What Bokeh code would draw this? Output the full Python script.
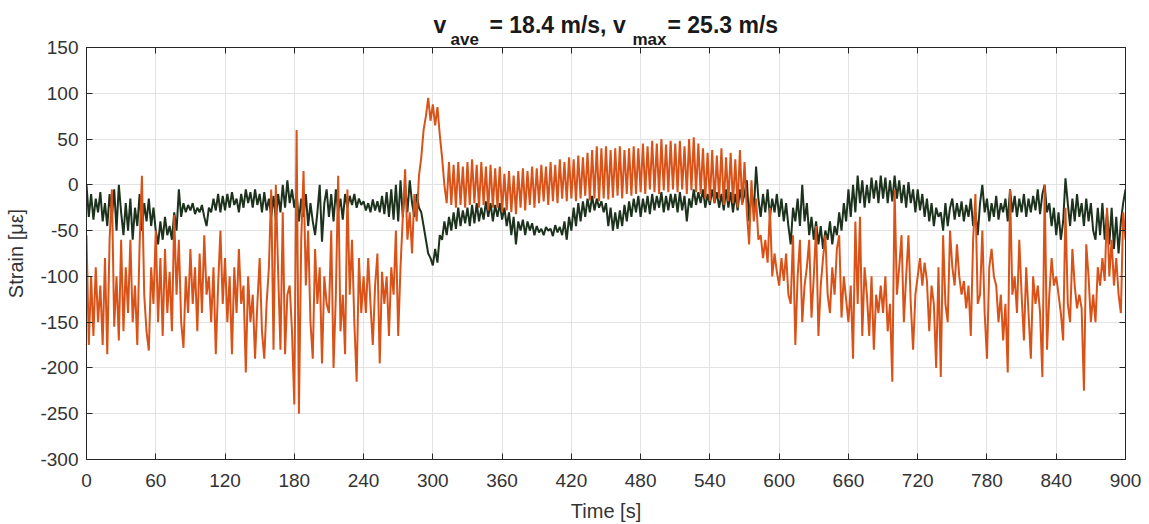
import numpy as np
from bokeh.plotting import figure
from bokeh.models import Range1d, FixedTicker, LinearAxis, Label
from bokeh.embed import file_html
from bokeh.resources import INLINE

# ---------------- data ----------------
time_step = 2  # seconds between samples
x_ticks = [0, 60, 120, 180, 240, 300, 360, 420, 480, 540, 600, 660, 720, 780, 840, 900]
y_ticks = [-300, -250, -200, -150, -100, -50, 0, 50, 100, 150]
y_tick_labels = ["-300", "-250", "-200", "-150", "-100", "-50", "0", "50", "100", "150"]

strain_green = [
    0, -35, -10, -38, -15, -30, -8, -40, -20, -45, -10, -35, -5, -50, 0,
    -30, -55, -20, -50, -15, -60, -25, -45, -10, -50, -20, -40, -15, -45, -25,
    -50, -65, -40, -60, -35, -55, -45, -60, -30, -50, -5, -35, -20, -30, -22,
    -28, -20, -32, -25, -30, -22, -35, -45, -25, -30, -15, -28, -10, -30, -12,
    -28, -10, -25, -8, -22, -15, -30, -10, -25, -5, -20, -8, -25, -5, -22,
    -10, -30, -8, -28, -15, -35, -12, -38, -10, -30, 0, -25, 5, -20, -5,
    -25, -10, -40, -15, -35, -10, -45, -20, -40, -55, -30, 0, -62, -20, -5,
    -35, -10, -40, -5, -30, -15, -38, -10, -25, -12, -22, -10, -25, -15, -22,
    -18, -28, -20, -30, -16, -28, -18, -30, -12, -32, -8, -35, -5, -38, 0,
    -40, 5, -35, 0, -30, 5, -20, -35, -10, -25, -30, -45, -60, -75, -80,
    -88, -70, -85, -55, -60, -40, -55, -35, -50, -30, -48, -25, -45, -28, -42,
    -25, -45, -22, -42, -20, -40, -25, -38, -18, -35, -20, -40, -22, -35, -20,
    -38, -25, -45, -30, -55, -35, -65, -40, -50, -38, -55, -40, -50, -42, -55,
    -45, -52, -48, -55, -46, -50, -48, -56, -44, -52, -46, -55, -40, -60, -35,
    -50, -25, -45, -20, -40, -18, -35, -15, -30, -12, -28, -15, -25, -18, -30,
    -20, -45, -25, -50, -30, -48, -28, -45, -22, -40, -18, -35, -15, -30, -12,
    -35, -15, -30, -12, -32, -10, -28, -12, -25, -8, -30, -12, -28, -10, -25,
    -10, -30, -8, -28, -12, -40, -15, -25, -5, -22, -8, -20, -5, -25, -10,
    -22, -5, -20, -8, -25, -10, -28, -5, -25, -8, -30, -10, -28, -5, -20,
    -10, 5, -40, -5, -30, 20, -15, -35, -10, -30, -5, -35, -15, -30, -10,
    -35, -15, -40, -20, -45, -65, -25, -40, -15, -45, 0, -40, -20, -55, -35,
    -60, -40, -65, -45, -70, -50, -60, -40, -65, -45, -55, -30, -50, -20, -40,
    -5, -35, 0, -30, 10, -20, 5, -25, 0, -20, 8, -15, 5, -20, 10,
    -15, 8, -20, 5, -18, 10, -15, 5, -20, 0, -25, 3, -20, -5, -30,
    -5, -28, -10, -35, -15, -40, -20, -45, -25, -35, -30, -50, -20, -45, -25,
    -15, -38, -20, -35, -18, -40, -22, -35, -15, -45, -30, -55, -20, 0, -30,
    -15, -40, -20, -35, -12, -38, -20, -30, -15, -40, -5, -30, -12, -35, -15,
    -30, -10, -35, -15, -30, -12, -28, -5, -32, -10, 0, -30, -20, -45, -25,
    -55, -30, -60, -40, 7, -20, -45, -15, -40, -10, -35, -20, -45, -15, -40,
    -20, -50, -60, -25, -55, -20, -60, -30, -65, -25, -70, -35, -75, -40, -20,
    -5,
]

strain_red = [
    -55, -175, -100, -165, -90, -150, -110, -175, -80, -185, -60, -5, -155, -100, -170,
    -60, -160, -90, -140, -60, -150, -110, -175, -65, 10, -120, -160, -181, -90, -130,
    -50, -150, -80, -165, -70, -140, -95, -160, -33, -120, -60, -150, -178, -100, -140,
    -70, -130, -90, -160, -75, -140, -55, -120, -100, -150, -90, -185, -110, -50, -130,
    -80, -150, -100, -185, -90, -140, -70, -130, -110, -205, -100, -150, -120, -190, -130,
    -80, -160, -190, -130, -90, -5, -180, 0, -95, -180, -30, -185, -120, -110, -160,
    -240, 60, -250, -60, 15, -110, -50, -150, -190, -70, -130, -90, -195, -100, -130,
    -140, -50, -200, -120, 10, -160, -120, -185, -5, -120, -60, -150, -215, -80, -140,
    -100, -140, -80, -130, -175, -110, -75, -195, -95, -130, -100, -165, -90, -120, -50,
    -165, -90, -35, 17, -60, -30, -75, -10, -40, 10, 30, 60, 75, 95, 70,
    88, 65, 85, 55, 30, 0, -20, 25, -22, 22, -25, 25, -22, 20, -25,
    25, -22, 28, -20, 22, -25, 25, -22, 20, -28, 22, -25, 18, -25, 20,
    -30, 12, -28, 15, -30, 10, -32, 15, -25, 18, -28, 15, -22, 20, -25,
    18, -20, 22, -18, 20, -22, 25, -18, 22, -20, 28, -15, 25, -18, 30,
    -15, 28, -18, 32, -15, 30, -12, 35, -17, 38, -15, 42, -18, 40, -15,
    42, -16, 38, -14, 40, -12, 42, -15, 38, -10, 40, -12, 42, -10, 40,
    -8, 45, -10, 42, -5, 48, -8, 45, -10, 50, -6, 44, -8, 48, -5,
    45, -8, 48, -5, 42, -10, 50, -6, 52, -8, 45, -10, 40, -15, 35,
    -18, 38, -20, 32, -15, 40, -22, 30, -18, 35, -20, 28, -25, 38, -22,
    25, -30, -65, 5, -40, -15, -60, -55, -80, -60, -85, -25, -100, -75, -95,
    -110, -80, -105, -75, -120, -130, -55, -175, -100, -60, -150, -110, -90, -60, -145,
    -100, -45, -165, -110, -80, -55, -120, -140, -90, -120, -70, -55, -145, -100, -125,
    -150, -110, -190, -40, -130, -35, -165, -90, -120, -165, -100, -180, -120, -140, -110,
    -140, -100, -160, -130, -215, -5, -120, -90, -55, -150, -100, -55, -130, -180, -120,
    -100, -80, -110, -85, -105, -160, -110, -130, -200, -90, -210, -55, -130, -150, -50,
    -90, -110, -65, -100, -120, -105, -135, -110, -165, -60, -10, -130, -120, -50, -140,
    -190, -90, -70, -100, -110, -150, -120, -170, -130, -205, -5, -120, -100, -140, -60,
    -120, -170, -90, -140, -190, -100, -130, -110, -140, -210, 0, -180, -120, -80, -110,
    -100, -120, -140, -170, -25, -130, -150, -70, -110, -135, -120, -135, -225, -65, -100,
    -150, -120, -150, -90, -110, -80, -105, -25, -100, -60, -110, -80, -120, -140, -30,
    -60,
]

time_s = np.arange(len(strain_red)) * time_step

x_label = "Time [s]"
y_label = "Strain [με]"
title_parts = ["v", "ave", "= 18.4 m/s, v", "max", "= 25.3 m/s"]

# ---------------- styling ----------------
FONT = "Liberation Sans"
AX_COL = "#262626"
GRID_COL = "#e3e3e3"
RED = "#D95319"
GREEN = "#1C321D"

EXTRA_TOP = 69  # room taken by the title labels' side panel, shifted out of view

p = figure(
    width=1149, height=524 + EXTRA_TOP,
    x_range=Range1d(0, 900), y_range=Range1d(-300, 150),
    output_backend="svg", toolbar_location=None,
    min_border_left=86, min_border_right=24, min_border_top=47,
    min_border_bottom=64, margin=(-EXTRA_TOP, 0, 0, 0),
)
p.title.text = ""
p.background_fill_color = "white"
p.border_fill_color = "white"
p.outline_line_color = AX_COL
p.outline_line_width = 1

p.line(time_s, strain_green, line_color=GREEN, line_width=2)
p.line(time_s, strain_red, line_color=RED, line_width=2)

for ax in (p.xaxis[0], p.yaxis[0]):
    ax.axis_line_color = AX_COL
    ax.major_tick_line_color = AX_COL
    ax.major_tick_in = 6
    ax.major_tick_out = 0
    ax.minor_tick_line_color = None
    ax.major_label_text_font = FONT
    ax.major_label_text_font_size = "19px"
    ax.major_label_text_color = "#333333"
    ax.axis_label_text_font = FONT
    ax.axis_label_text_font_size = "20px"
    ax.axis_label_text_font_style = "normal"
    ax.axis_label_text_color = "#333333"

p.xaxis[0].ticker = FixedTicker(ticks=x_ticks)
p.yaxis[0].ticker = FixedTicker(ticks=y_ticks)
p.yaxis[0].major_label_overrides = dict(zip(y_ticks, y_tick_labels))
p.xaxis[0].axis_label = x_label
p.yaxis[0].axis_label = y_label
p.xaxis[0].major_label_standoff = 14
p.xaxis[0].axis_label_standoff = 10
p.yaxis[0].major_label_standoff = 8
p.yaxis[0].axis_label_standoff = 10

# top and right box axes (ticks only, no labels)
top = LinearAxis(ticker=FixedTicker(ticks=x_ticks))
right = LinearAxis(ticker=FixedTicker(ticks=y_ticks))
for ax in (top, right):
    ax.axis_line_color = AX_COL
    ax.major_tick_line_color = AX_COL
    ax.major_tick_in = 6
    ax.major_tick_out = 0
    ax.minor_tick_line_color = None
    ax.major_label_text_color = None
    ax.major_label_text_font_size = "0px"
    ax.major_label_standoff = 0
p.add_layout(top, "above")
p.add_layout(right, "right")

p.xgrid.ticker = FixedTicker(ticks=x_ticks)
p.ygrid.ticker = FixedTicker(ticks=y_ticks)
p.grid.grid_line_color = GRID_COL
p.grid.grid_line_width = 1

# title with subscripts, placed in the top panel (outside the clipped frame)
px_per_s = 1039 / 900
px_per_u = 413 / 450
def tx(px):
    return (px - 86) / px_per_s
def ty(py):
    return 150 + (47 - py) / px_per_u

title_lefts = [433, 450, 489, 632, 667]
sizes = ["23px", "17px", "23px", "17px", "23px"]
bases = [24, 39, 24, 39, 24]
for txt, lx, sz, by in zip(title_parts, title_lefts, sizes, bases):
    p.add_layout(Label(x=tx(lx), y=ty(by), text=txt, text_font=FONT, text_font_size=sz,
                       text_font_style="bold", text_color="#1a1a1a",
                       text_align="left", text_baseline="alphabetic"), "above")

open("out.html", "w").write(file_html(p, INLINE))
